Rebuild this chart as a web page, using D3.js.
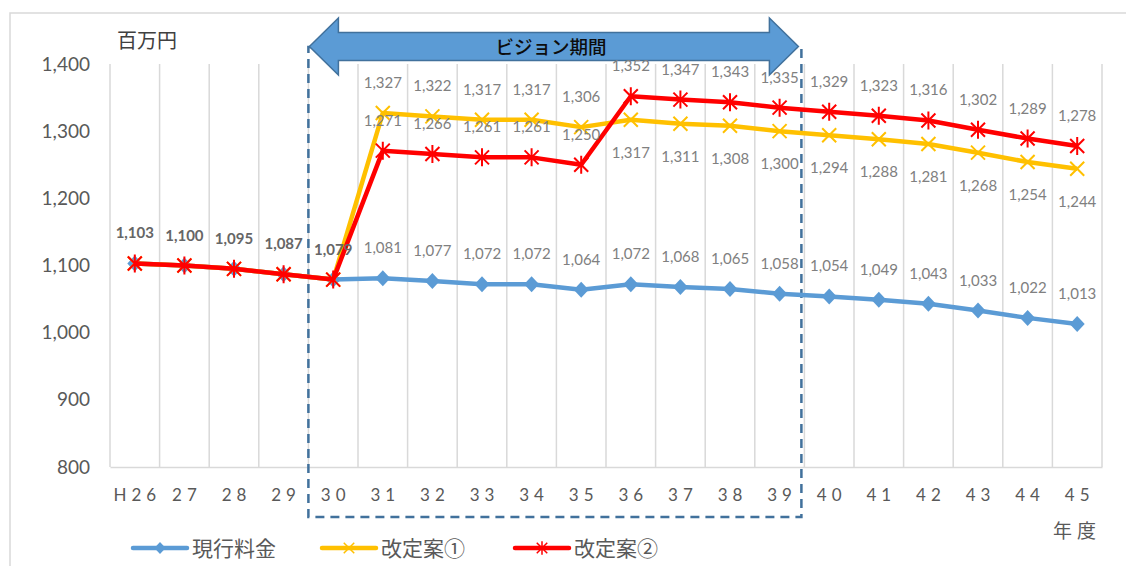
<!DOCTYPE html>
<html><head><meta charset="utf-8">
<script src="https://cdn.jsdelivr.net/npm/d3@7/dist/d3.min.js"></script>
<style>
html,body{margin:0;padding:0;background:#fff;}
svg{display:block;}
</style></head>
<body>
<svg id="chart" width="1126" height="566"></svg>
<script>
const categories = ["H26","27","28","29","30","31","32","33","34","35","36","37","38","39","40","41","42","43","44","45"];
const currentRate = [1103,1100,1095,1087,1079,1081,1077,1072,1072,1064,1072,1068,1065,1058,1054,1049,1043,1033,1022,1013];
const plan1 = [1103,1100,1095,1087,1079,1327,1322,1317,1317,1306,1317,1311,1308,1300,1294,1288,1281,1268,1254,1244];
const plan2 = [1103,1100,1095,1087,1079,1271,1266,1261,1261,1250,1352,1347,1343,1335,1329,1323,1316,1302,1289,1278];
const yTicks = [800,900,1000,1100,1200,1300,1400];
const seriesNames = ["現行料金","改定案①","改定案②"];
const yUnit = "百万円";
const xUnit = "年度";
const visionLabel = "ビジョン期間";
const visionStart = "30", visionEnd = "39";

const svg = d3.select("#chart");
const JP = "'Noto Sans CJK JP', 'Noto Sans', sans-serif";
const NUM = "Lato, 'Noto Sans', sans-serif";

// outer frame
svg.append("path").attr("d","M10,566 V13 H1126").attr("fill","none").attr("stroke","#d9d9d9").attr("stroke-width",1.5);

const x = d3.scaleBand().domain(categories).range([110,1102]).paddingInner(0).paddingOuter(0);
const y = d3.scaleLinear().domain([800,1400]).range([467,64]);
const cx = c => x(c) + x.bandwidth()/2;

// vertical gridlines at category boundaries
const bounds = categories.map(c => x(c)).concat([x(categories[categories.length-1]) + x.bandwidth()]);
svg.append("g").selectAll("line").data(bounds).join("line")
  .attr("x1",d=>d).attr("x2",d=>d).attr("y1",y(1400)).attr("y2",y(800))
  .attr("stroke","#d9d9d9").attr("stroke-width",1.5);

// x axis line
const xAxis = d3.axisBottom(x).tickSize(0).tickSizeOuter(0).tickPadding(22);
const gx = svg.append("g").attr("transform",`translate(0,${y(800)})`).call(xAxis);
gx.select(".domain").attr("stroke","#d9d9d9").attr("stroke-width",1.5);
gx.selectAll("text").attr("fill","#595959").style("font-family",NUM).style("font-size","17px").style("letter-spacing","5px")
  .attr("dx","2.5px");

// y axis
const yAxis = d3.axisLeft(y).tickValues(yTicks).tickSize(0).tickPadding(20).tickFormat(d3.format(","));
const gy = svg.append("g").attr("transform","translate(110,0)").call(yAxis);
gy.select(".domain").remove();
gy.selectAll("text").attr("fill","#595959").style("font-family",NUM).style("font-size","19px");

// unit labels
svg.append("text").attr("x",117).attr("y",48).text(yUnit).attr("fill","#404040").style("font-family",JP).style("font-size","20px");
svg.append("text").attr("x",1101).attr("y",538).attr("text-anchor","end").text(xUnit).attr("fill","#595959").style("font-family",JP).style("font-size","19px").style("letter-spacing","5px");

// vision period dashed box
const vx0 = x(visionStart), vx1 = x(visionEnd) + x.bandwidth() - 3;
svg.append("rect").attr("x",vx0).attr("y",47).attr("width",vx1-vx0).attr("height",517-47)
  .attr("fill","none").attr("stroke","#41719c").attr("stroke-width",2.5).attr("stroke-dasharray","9,6");

// double arrow
const ay = 46.5, headW = 29, hh = 28.5, sh = 14;
const ax0 = vx0 + 1, ax1 = vx1 - 3;
const arrowPath = `M${ax0},${ay} L${ax0+headW},${ay-hh} L${ax0+headW},${ay-sh} L${ax1-headW},${ay-sh} L${ax1-headW},${ay-hh} L${ax1},${ay} L${ax1-headW},${ay+hh} L${ax1-headW},${ay+sh} L${ax0+headW},${ay+sh} L${ax0+headW},${ay+hh} Z`;
svg.append("path").attr("d",arrowPath).attr("fill","#5b9bd5").attr("stroke","#41719c").attr("stroke-width",1.5);
svg.append("text").attr("x",551).attr("y",ay+7).attr("text-anchor","middle").text(visionLabel)
  .attr("fill","#0d0d0d").style("font-family",JP).style("font-size","18.5px").style("font-weight","500");

// series
const colors = ["#5b9bd5","#ffc000","#ff0000"];
const data = [currentRate, plan1, plan2];
const line = d3.line().x((d,i)=>cx(categories[i])).y(d=>y(d));

function marker(g, type, color){
  if(type===0){
    g.append("path").attr("d","M0,-8 L7.5,0 L0,8 L-7.5,0 Z").attr("fill",color);
  } else if(type===1){
    g.append("path").attr("d","M-7,-7 L7,7 M-7,7 L7,-7").attr("stroke",color).attr("stroke-width",2).attr("fill","none");
  } else {
    g.append("path").attr("d","M-7,-7 L7,7 M-7,7 L7,-7 M0,-9 L0,9").attr("stroke",color).attr("stroke-width",2).attr("fill","none");
  }
}

data.forEach((vals,s)=>{
  svg.append("path").datum(vals).attr("d",line).attr("fill","none").attr("stroke",colors[s]).attr("stroke-width",4.5).attr("stroke-linejoin","round");
  vals.forEach((v,i)=>{
    const g = svg.append("g").attr("transform",`translate(${cx(categories[i])},${y(v)})`);
    marker(g,s,colors[s]);
  });
});

// data labels
const fmt = d3.format(",");
const labelG = svg.append("g").style("font-family",NUM).style("font-size","15px");
data.forEach((vals,s)=>{
  vals.forEach((v,i)=>{
    if(i<5 && s>0) return;
    let below = (s===1 && i>=10);
    const early = i<5;
    labelG.append("text").attr("x",cx(categories[i])).attr("y", below ? y(v)+38 : y(v)-25)
      .attr("text-anchor","middle").text(fmt(v))
      .attr("fill", early ? "#666666" : "#808080")
      .style("font-weight", early ? "bold" : "normal");
  });
});

// legend
const leg = [[133,187,192],[322,376,381],[515,569,574]];
leg.forEach((p,s)=>{
  svg.append("line").attr("x1",p[0]).attr("x2",p[1]).attr("y1",548).attr("y2",548).attr("stroke",colors[s]).attr("stroke-width",4.5).attr("stroke-linecap","round");
  const g = svg.append("g").attr("transform",`translate(${(p[0]+p[1])/2},548) scale(0.75)`);
  marker(g,s,colors[s]);
  svg.append("text").attr("x",p[2]).attr("y",556).text(seriesNames[s]).attr("fill","#595959").style("font-family",JP).style("font-size","21px");
});
</script>
</body></html>
